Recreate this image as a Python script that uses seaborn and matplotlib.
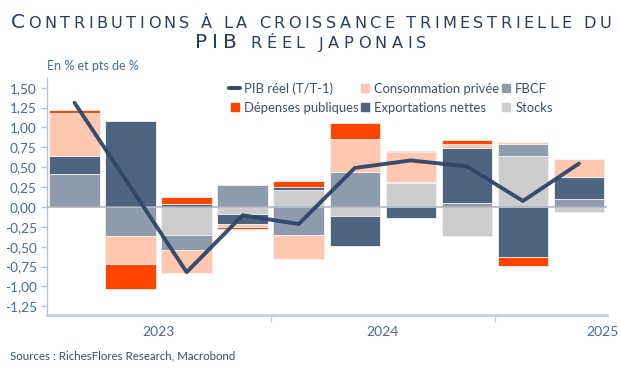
import matplotlib
matplotlib.use("Agg")
import matplotlib.pyplot as plt
from matplotlib.lines import Line2D
from matplotlib.offsetbox import TextArea, HPacker, DrawingArea, AnchoredOffsetbox
import numpy as np
import pandas as pd
import seaborn as sns

# Contributions trimestrielles (pts de %), T1 2023 -> T2 2025
quarters = ["2023T1", "2023T2", "2023T3", "2023T4", "2024T1",
            "2024T2", "2024T3", "2024T4", "2025T1", "2025T2"]
pib = [1.31, 0.25, -0.82, -0.105, -0.215, 0.49, 0.585, 0.51, 0.075, 0.545]
conso = [0.54, -0.35, -0.28, -0.04, -0.295, 0.41, 0.375, 0.05, 0.02, 0.225]
fbcf = [0.415, -0.37, -0.19, 0.28, -0.355, 0.44, 0.02, 0.05, 0.155, 0.10]
depenses = [0.035, -0.31, 0.09, -0.03, 0.075, 0.21, 0.015, 0.05, -0.105, 0.0]
exports = [0.23, 1.08, 0.035, -0.13, 0.035, -0.375, -0.133, 0.69, -0.635, 0.273]
stocks = [0.0, 0.0, -0.355, -0.083, 0.21, -0.117, 0.295, -0.37, 0.64, -0.063]
years = ["2023", "2024", "2025"]

col_conso = "#ffc6b0"
col_fbcf = "#8f9cae"
col_dep = "#ff4500"
col_exp = "#4e6480"
col_stocks = "#cdcdcd"
col_line = "#2f4668"
title_col = "#2c3e5c"
tick_col = "#4a6b96"
text_col = "#3d4f66"

sns.set_style("white")
plt.rcParams["font.family"] = ["Lato", "DejaVu Sans"]

fig = plt.figure(figsize=(6.2, 3.72), dpi=100)
ax = fig.add_axes([0.075, 0.153, 0.904, 0.637])

x = np.arange(len(quarters))
stack = [(stocks, col_stocks), (fbcf, col_fbcf), (exports, col_exp),
         (conso, col_conso), (depenses, col_dep)]
pos_base = np.zeros(len(x))
neg_base = np.zeros(len(x))
for vals, col in stack:
    v = np.array(vals)
    pos = np.where(v > 0, v, 0.0)
    neg = np.where(v < 0, v, 0.0)
    m = pos != 0
    ax.bar(x[m], pos[m], bottom=pos_base[m], width=0.9, color=col,
           edgecolor="#f3f3f3", linewidth=0.6, zorder=2)
    m = neg != 0
    ax.bar(x[m], neg[m], bottom=neg_base[m], width=0.9, color=col,
           edgecolor="#f3f3f3", linewidth=0.6, zorder=2)
    pos_base += pos
    neg_base += neg

ax.axhline(0, color="#a9b1bb", lw=1.3, alpha=0.85, zorder=3)

df = pd.DataFrame({"x": x, "pib": pib})
sns.lineplot(data=df, x="x", y="pib", color=col_line, lw=2.8, alpha=0.95,
             ax=ax, zorder=4, legend=False)

ax.set_xlim(-0.5, 9.5)
ax.set_ylim(-1.36, 1.62)
yt = np.arange(-1.25, 1.51, 0.25)
ax.set_yticks(yt)
ax.set_yticklabels([f"{v:.2f}".replace(".", ",").replace("-0,00", "0,00") for v in yt])
ax.set_xticks([3.5, 7.5])
ax.set_xticklabels([])
# 2025 label pulled slightly in so it stays inside the figure
ax.set_xticks([1.5, 5.5, 9.42], minor=True)
ax.set_xticklabels(years, minor=True)
ax.set_xlabel("")
ax.set_ylabel("")

for s in ["top", "right"]:
    ax.spines[s].set_visible(False)
ax.spines["left"].set_color("#b9c3d0")
ax.spines["left"].set_linewidth(1.0)
ax.spines["bottom"].set_color("#c9d1db")
ax.spines["bottom"].set_linewidth(2.0)
ax.tick_params(axis="y", direction="out", length=4, width=1, color="#b9c3d0",
               labelcolor=tick_col, labelsize=9.8, pad=3, left=True)
ax.tick_params(axis="x", which="major", direction="out", length=5, width=1,
               color="#c9d1db", bottom=True)
ax.tick_params(axis="x", which="minor", length=0, labelcolor=tick_col,
               labelsize=10, pad=8)

# legend
handles = [
    Line2D([], [], color=col_line, lw=2.8),
    Line2D([], [], marker="s", ls="none", markersize=6, color=col_dep),
    Line2D([], [], marker="s", ls="none", markersize=6, color=col_conso),
    Line2D([], [], marker="s", ls="none", markersize=6, color=col_exp),
    Line2D([], [], marker="s", ls="none", markersize=6, color=col_fbcf),
    Line2D([], [], marker="s", ls="none", markersize=6, color=col_stocks),
]
labels = ["PIB réel (T/T-1)", "Dépenses publiques", "Consommation privée",
          "Exportations nettes", "FBCF", "Stocks"]
leg = ax.legend(handles, labels, ncol=3, loc="upper left",
                bbox_to_anchor=(229 / 620, 1 - 82 / 372),
                bbox_transform=fig.transFigure, frameon=False, fontsize=9.4,
                handlelength=0.85, handletextpad=0.3, columnspacing=0.05,
                labelspacing=0.55, borderpad=0, borderaxespad=0)
for t in leg.get_texts():
    t.set_color(text_col)

fig.text(47 / 620, 1 - 66 / 372, "En % et pts de %", ha="left", va="center",
         fontsize=9, color=tick_col)
fig.text(10 / 620, 1 - 356 / 372, "Sources : RichesFlores Research, Macrobond",
         ha="left", va="center", fontsize=8.3, color=text_col)


# titre en petites capitales
def title_line(parts):
    kids = []
    for txt, size in parts:
        for ch in txt:
            if ch == " ":
                kids.append(DrawingArea(size * 0.3, 1))
            else:
                kids.append(TextArea(ch, textprops=dict(size=size, color=title_col,
                                                        family="DejaVu Sans")))
    return HPacker(children=kids, align="baseline", pad=0, sep=0)


renderer = fig.canvas.get_renderer()
lines = [
    (title_line([("C", 14.5), ("ONTRIBUTIONS À LA CROISSANCE TRIMESTRIELLE DU", 11.6)]),
     600, 1 - 32.5 / 372),
    (title_line([("PIB", 14.5), (" RÉEL JAPONAIS", 11.6)]), 231, 1 - 52.5 / 372),
]
for hp, target, ypos in lines:
    box = AnchoredOffsetbox(loc="lower center", child=hp, pad=0, borderpad=0,
                            frameon=False, bbox_to_anchor=(311 / 620, ypos),
                            bbox_transform=fig.transFigure)
    fig.add_artist(box)
    for c in hp.get_children():
        c.set_figure(fig)
    w0 = hp.get_bbox(renderer).width
    n = len(hp.get_children())
    hp.sep = (target - w0) / (n - 1) * 72 / fig.dpi

fig.savefig("out.png", dpi=100)
